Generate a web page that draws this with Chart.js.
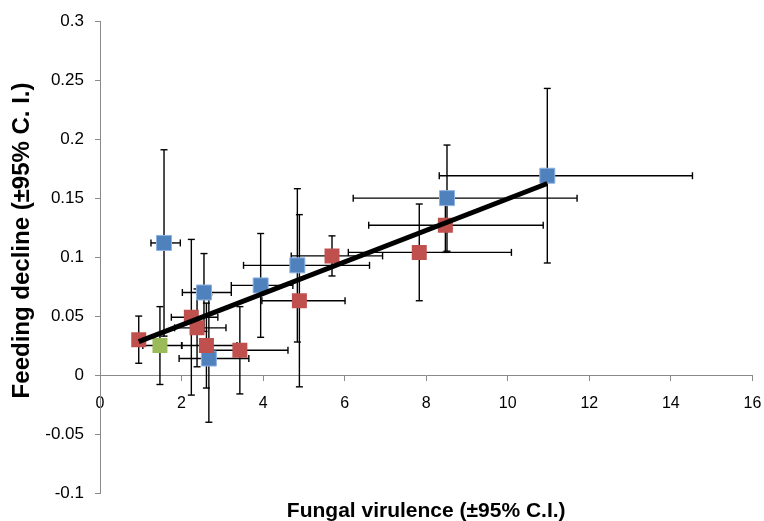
<!DOCTYPE html>
<html><head><meta charset="utf-8">
<script src="https://cdn.jsdelivr.net/npm/chart.js@4"></script>
<style>html,body{margin:0;padding:0;background:#fff;}canvas{display:block;}</style>
</head><body>
<canvas id="c" width="764" height="521"></canvas>
<script>
// ---- tick labels ----
const xTicks = [0, 2, 4, 6, 8, 10, 12, 14, 16];
const yTicks = [-0.1, -0.05, 0, 0.05, 0.1, 0.15, 0.2, 0.25, 0.3];
const yTickLabels = ['-0.1', '-0.05', '0', '0.05', '0.1', '0.15', '0.2', '0.25', '0.3'];
const xTitle = 'Fungal virulence (±95% C.I.)';
const yTitle = 'Feeding decline (±95% C. I.)';

// ---- blue series ----
const blueX = [1.57, 2.55, 2.67, 3.94, 4.84, 8.51, 10.97];
const blueY = [0.112, 0.070, 0.014, 0.076, 0.093, 0.150, 0.169];
const blueYErr = [0.079, 0.033, 0.054, 0.044, 0.065, 0.045, 0.074];
const blueXErrMinus = [0.32, 0.53, 0.73, 0.72, 1.32, 2.30, 2.65];
const blueXErrPlus = [0.40, 0.67, 0.98, 0.79, 1.77, 3.19, 3.56];

// ---- red series ----
const redX = [0.95, 2.24, 2.38, 2.61, 3.43, 4.89, 5.69, 7.83, 8.47];
const redY = [0.030, 0.049, 0.040, 0.025, 0.021, 0.063, 0.101, 0.104, 0.127];
const redYErr = [0.020, 0.066, 0.033, 0.036, 0.037, 0.073, 0.017, 0.041, 0.023];
const redXErrMinus = [0, 0.49, 0.55, 0.60, 0.90, 0.92, 1.00, 1.74, 1.88];
const redXErrPlus = [0, 0.65, 0.71, 0.75, 1.18, 1.12, 1.24, 2.26, 2.40];

// ---- green series ----
const greenX = [1.47];
const greenY = [0.025];
const greenYErr = [0.033];
const greenXErrMinus = [0.42];
const greenXErrPlus = [0.53];

function pts(xs, ys) { return xs.map((x, i) => ({ x: x, y: ys[i] })); }
function errs(ye, xm, xp) { return ye.map((e, i) => ({ y: e, xm: xm[i], xp: xp[i] })); }

// least-squares trend line over all points
const allX = blueX.concat(redX, greenX);
const allY = blueY.concat(redY, greenY);
const n = allX.length;
const mx = allX.reduce((a, b) => a + b, 0) / n;
const my = allY.reduce((a, b) => a + b, 0) / n;
let sxy = 0, sxx = 0;
for (let i = 0; i < n; i++) { sxy += (allX[i] - mx) * (allY[i] - my); sxx += (allX[i] - mx) ** 2; }
const slope = sxy / sxx, icpt = my - slope * mx;
const xmin = Math.min(...allX), xmax = Math.max(...allX);
const trend = [{ x: xmin, y: icpt + slope * xmin }, { x: xmax, y: icpt + slope * xmax }];

const AXIS = '#8a8a8a';

const errorBars = {
  id: 'errorBars',
  beforeDatasetsDraw(chart) {
    const xs = chart.scales.x, ys = chart.scales.y, ctx = chart.ctx;
    const cap = 3.5;
    ctx.save();
    ctx.strokeStyle = '#000';
    ctx.lineWidth = 1.4;
    const seg = (a, b, c, d) => { ctx.beginPath(); ctx.moveTo(a, b); ctx.lineTo(c, d); ctx.stroke(); };
    chart.data.datasets.forEach(ds => {
      if (!ds.err) return;
      ds.data.forEach((p, i) => {
        const e = ds.err[i];
        const px = xs.getPixelForValue(p.x), py = ys.getPixelForValue(p.y);
        if (e.y > 0) {
          const t = ys.getPixelForValue(p.y + e.y), b = ys.getPixelForValue(p.y - e.y);
          seg(px, t, px, b); seg(px - cap, t, px + cap, t); seg(px - cap, b, px + cap, b);
        }
        if (e.xm > 0 || e.xp > 0) {
          const l = xs.getPixelForValue(p.x - e.xm), r = xs.getPixelForValue(p.x + e.xp);
          seg(l, py, r, py); seg(l, py - cap, l, py + cap); seg(r, py - cap, r, py + cap);
        }
      });
    });
    ctx.restore();
  }
};

const R = 10.6;
new Chart(document.getElementById('c'), {
  type: 'scatter',
  data: {
    datasets: [
      { label: 'trend', data: trend, showLine: true, borderColor: '#000', borderWidth: 5, pointRadius: 0, order: 0 },
      { label: 'green', data: pts(greenX, greenY), err: errs(greenYErr, greenXErrMinus, greenXErrPlus), pointStyle: 'rect', pointRadius: R, backgroundColor: '#9BBB59', borderColor: '#9BBB59', borderWidth: 0, order: 1 },
      { label: 'red', data: pts(redX, redY), err: errs(redYErr, redXErrMinus, redXErrPlus), pointStyle: 'rect', pointRadius: R, backgroundColor: '#C0504D', borderColor: '#C0504D', borderWidth: 0, order: 2 },
      { label: 'blue', data: pts(blueX, blueY), err: errs(blueYErr, blueXErrMinus, blueXErrPlus), pointStyle: 'rect', pointRadius: R, backgroundColor: '#4F81BD', borderColor: '#8DB3E2', borderWidth: 1, order: 3 }
    ]
  },
  options: {
    responsive: false,
    animation: false,
    devicePixelRatio: 1,
    layout: { padding: { top: 21, right: 10, left: 0, bottom: 0 } },
    plugins: { legend: { display: false }, tooltip: { enabled: false } },
    scales: {
      x: {
        type: 'linear', position: 'bottom', min: 0, max: 16,
        grid: { display: false }, border: { display: false }, ticks: { display: false },
        title: { display: true, text: xTitle, color: '#000', font: { family: 'Liberation Sans', size: 21, weight: 'bold', lineHeight: 0.9 }, padding: { top: 0, bottom: 0 } },
        afterFit(s) { s.height = 28; s.paddingLeft = 0; s.paddingRight = 0; }
      },
      x2: {
        type: 'linear', axis: 'x', position: { y: 0 }, min: 0, max: 16,
        grid: { drawOnChartArea: false, drawTicks: true, tickLength: 5, color: AXIS },
        border: { color: AXIS, width: 1 },
        ticks: { color: '#000', padding: 14, maxRotation: 0, autoSkip: false, font: { family: "'Liberation Sans Narrow', 'Liberation Sans'", size: 16 } },
        afterBuildTicks(s) { s.ticks = xTicks.map(v => ({ value: v })); },
        afterFit(s) { s.paddingLeft = 0; s.paddingRight = 0; }
      },
      y: {
        type: 'linear', position: 'left', min: -0.1, max: 0.3,
        grid: { drawOnChartArea: false, drawTicks: true, tickLength: 5, color: AXIS },
        border: { color: AXIS, width: 1 },
        ticks: { color: '#000', padding: 11, font: { family: 'Liberation Sans', size: 17 },
          callback(v) { const k = yTicks.findIndex(t => Math.abs(t - v) < 1e-9); return k >= 0 ? yTickLabels[k] : ''; } },
        afterBuildTicks(s) { s.ticks = yTicks.map(v => ({ value: v })); },
        title: { display: true, text: '\u00A0\u00A0\u00A0\u00A0\u00A0' + yTitle, color: '#000', font: { family: 'Liberation Sans', size: 24, weight: 'bold' }, padding: { top: 8, bottom: 0 } },
        afterFit(s) { s.width = 100; }
      }
    }
  },
  plugins: [errorBars]
});
</script>
</body></html>
